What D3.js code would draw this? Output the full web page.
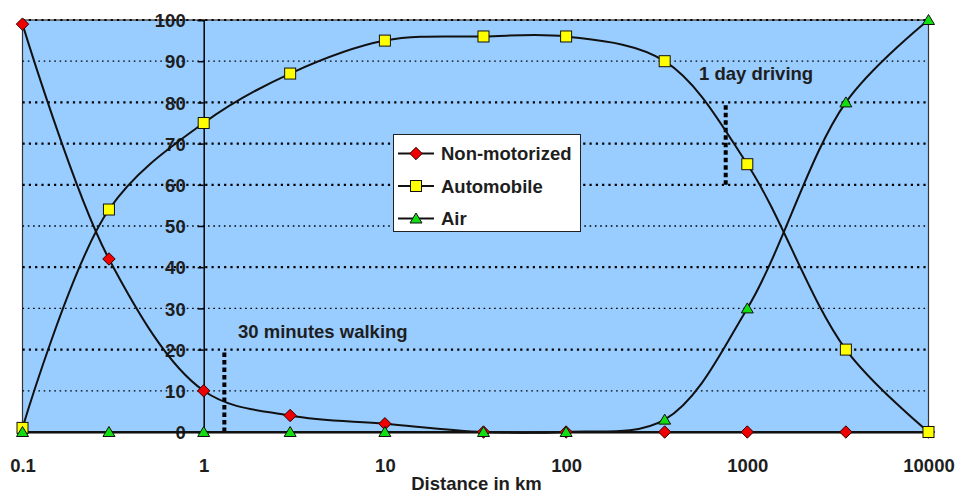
<!DOCTYPE html>
<html><head><meta charset="utf-8">
<script src="https://cdn.jsdelivr.net/npm/d3@7"></script>
<style>
body{margin:0;background:#fff}
text{font-family:"Liberation Sans",Arial,sans-serif;font-weight:bold;fill:#1e1e1e}
</style>
</head><body><svg id="c" width="957" height="493"></svg>
<script>
// ---- data ----
const distances = [0.1, 0.3, 1, 3, 10, 35, 100, 350, 1000, 3500, 10000];
const nonMotorized = [99, 42, 10, 4, 2, 0, 0, 0, 0, 0, 0];
const automobile = [1, 54, 75, 87, 95, 96, 96, 90, 65, 20, 0];
const air = [0, 0, 0, 0, 0, 0, 0, 3, 30, 80, 100];
const seriesNames = ["Non-motorized", "Automobile", "Air"];
const xTicks = [0.1, 1, 10, 100, 1000, 10000];
const xTickLabels = ["0.1", "1", "10", "100", "1000", "10000"];
const yTicks = [0, 10, 20, 30, 40, 50, 60, 70, 80, 90, 100];
const xTitle = "Distance in km";
const annotationLabels = ["30 minutes walking", "1 day driving"];
const annotationX = [1.3, 760];
const annotationRange = [[0, 20], [60, 80]];

// ---- layout ----
const svg = d3.select("#c");
const L = 22.5, R = 928.5, T = 20, B = 432;
const x = d3.scaleLog().domain([0.1, 10000]).range([L, R]);
const y = d3.scaleLinear().domain([0, 100]).range([B, T]);

svg.append("rect").attr("x", L).attr("y", T).attr("width", R - L).attr("height", B - T)
  .attr("fill", "#99CCFF").attr("stroke", "#333").attr("stroke-width", 1.2);

// gridlines
const lightLines = [90, 50, 30, 10];
svg.append("g").selectAll("line").data(yTicks.filter(d => d > 0)).join("line")
  .attr("x1", L).attr("x2", R).attr("y1", d => y(d)).attr("y2", d => y(d))
  .attr("stroke", "#000")
  .attr("stroke-width", d => lightLines.includes(d) ? 1.3 : 2.2)
  .attr("stroke-dasharray", d => lightLines.includes(d) ? "1.6,3.7" : "2.2,4.1");

// y axis at x = 1
const yAxis = d3.axisLeft(y).tickValues(yTicks).tickSize(6).tickPadding(12).tickFormat(d3.format("d"));
const gy = svg.append("g").attr("transform", `translate(${x(1)},0)`).call(yAxis);
gy.select(".domain").attr("stroke", "#000").attr("stroke-width", 1.5);
gy.selectAll(".tick line").attr("stroke", "#000").attr("stroke-width", 1.5);
gy.selectAll(".tick text").attr("font-size", 18.5).attr("dy", "0.36em")
  .style("font-family", '"Liberation Sans",Arial,sans-serif').style("font-weight", "bold").attr("fill", "#1e1e1e");

// x axis
const xAxis = d3.axisBottom(x).tickValues(xTicks).tickSize(5).tickPadding(22)
  .tickFormat((d, i) => xTickLabels[i]);
const gx = svg.append("g").attr("transform", `translate(0,${B})`).call(xAxis);
gx.select(".domain").attr("stroke", "#000").attr("stroke-width", 2);
gx.selectAll(".tick line").attr("stroke", "#000").attr("stroke-width", 1.2);
gx.selectAll(".tick text").attr("font-size", 18.5).attr("dy", "0.71em")
  .style("font-family", '"Liberation Sans",Arial,sans-serif').style("font-weight", "bold").attr("fill", "#1e1e1e");

svg.append("text").attr("x", (L + R) / 2 + 1).attr("y", 490).attr("text-anchor", "middle")
  .attr("font-size", 18.5).text(xTitle);

// annotations
annotationX.forEach((ax, i) => {
  svg.append("line").attr("x1", x(ax)).attr("x2", x(ax))
    .attr("y1", y(annotationRange[i][0])).attr("y2", y(annotationRange[i][1]))
    .attr("stroke", "#000").attr("stroke-width", 4).attr("stroke-dasharray", "4.5,3");
});
svg.append("text").attr("x", 238).attr("y", 338).attr("font-size", 18.5).text(annotationLabels[0]);
svg.append("text").attr("x", 699).attr("y", 80).attr("font-size", 18.5).text(annotationLabels[1]);

// series
const series = [
  {name: seriesNames[0], values: nonMotorized, fill: "#ee0000", sym: "diamond"},
  {name: seriesNames[1], values: automobile, fill: "#ffff00", sym: "square"},
  {name: seriesNames[2], values: air, fill: "#11dd11", sym: "triangle"}
];
const line = d3.line().x(d => x(d[0])).y(d => y(d[1])).curve(d3.curveCatmullRom.alpha(0.5));
series.forEach(s => {
  svg.append("path").datum(distances.map((d, i) => [d, s.values[i]]))
    .attr("d", line).attr("fill", "none").attr("stroke", "#111").attr("stroke-width", 2);
});

function marker(g, sym, fill) {
  if (sym === "diamond") {
    g.append("path").attr("d", "M0,-6.2L6.2,0L0,6.2L-6.2,0Z").attr("fill", fill).attr("stroke", "#300").attr("stroke-width", 1);
  } else if (sym === "square") {
    g.append("rect").attr("x", -5.5).attr("y", -5.5).attr("width", 11).attr("height", 11)
      .attr("fill", fill).attr("stroke", "#111").attr("stroke-width", 1);
  } else {
    g.append("path").attr("d", "M0,-5.5L6,4.5L-6,4.5Z").attr("fill", fill).attr("stroke", "#111").attr("stroke-width", 1);
  }
}
series.forEach(s => {
  distances.forEach((d, i) => {
    const g = svg.append("g").attr("transform", `translate(${x(d)},${y(s.values[i])})`);
    marker(g, s.sym, s.fill);
  });
});

// legend
const lg = svg.append("g");
lg.append("rect").attr("x", 393.5).attr("y", 134.5).attr("width", 187).attr("height", 97)
  .attr("fill", "#fff").attr("stroke", "#222").attr("stroke-width", 1);
series.forEach((s, i) => {
  const yy = 153.5 + i * 32.5;
  lg.append("line").attr("x1", 398).attr("x2", 434).attr("y1", yy).attr("y2", yy)
    .attr("stroke", "#111").attr("stroke-width", 2);
  const g = lg.append("g").attr("transform", `translate(416,${yy})`);
  marker(g, s.sym, s.fill);
  lg.append("text").attr("x", 441).attr("y", yy).attr("dy", "0.36em").attr("font-size", 18.5).text(s.name);
});
</script>
</body></html>
